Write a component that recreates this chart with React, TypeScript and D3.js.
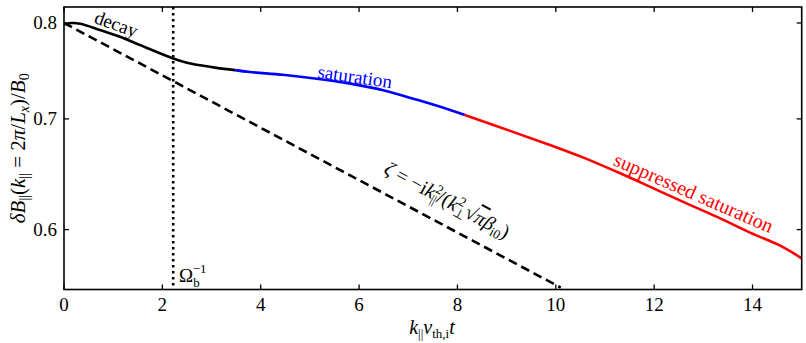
import React from "react";
import * as d3 from "d3";

const xTicks = [0, 2, 4, 6, 8, 10, 12, 14];
const yTicks = [0.6, 0.7, 0.8];

const decayT = [0, 0.15, 0.33, 0.73, 1.14, 1.55, 1.95, 2.22, 2.5, 2.77, 3.1, 3.48];
const decayV = [0.7985, 0.8, 0.7992, 0.7923, 0.7848, 0.7757, 0.767, 0.7615, 0.757, 0.7542, 0.7515, 0.7492];

const satT = [3.48, 3.78, 4.45, 5.14, 5.82, 6.49, 7.18, 7.85, 8.15];
const satV = [0.7492, 0.7472, 0.7443, 0.7403, 0.7352, 0.7285, 0.7188, 0.7088, 0.7039];

const supT = [8.15, 9.07, 9.88, 10.55, 11.24, 11.92, 12.59, 13.28, 13.95, 14.62, 15];
const supV = [0.7039, 0.6884, 0.675, 0.6635, 0.6503, 0.6368, 0.6236, 0.6107, 0.5975, 0.5856, 0.5764];

const zetaT = [0, 10.1];
const zetaV = [0.8, 0.5535];

const omegaT = 2.22;

const W = 806, H = 343;
const L = 64, R = 801.7, T = 7, B = 289.5;
const FAM = "Liberation Serif";

export default function App() {
  const x = d3.scaleLinear().domain([0, 15]).range([L, R]);
  const y = d3.scaleLog().domain([0.552, 0.818]).range([B, T]);
  const line = (ts: number[], vs: number[]) =>
    d3.line<number>().x((_, i) => x(ts[i])).y((_, i) => y(vs[i])).curve(d3.curveCatmullRom.alpha(0.5))(ts) || "";
  const tl = 5;
  return (
    <svg width={W} height={H} fontFamily={FAM} style={{ position: "absolute", left: 0, top: 0, background: "#fff", fontFamily: FAM }}>
      <defs>
        <clipPath id="plot">
          <rect x={L} y={T} width={R - L} height={B - T} />
        </clipPath>
      </defs>
      <g clipPath="url(#plot)">
        <line x1={x(omegaT)} x2={x(omegaT)} y1={T} y2={B} stroke="#000" strokeWidth={2.6} strokeDasharray="2.6,3.4" />
        <path d={line(zetaT, zetaV)} fill="none" stroke="#000" strokeWidth={2.6} strokeDasharray="9,5" />
        <path d={line(decayT, decayV)} fill="none" stroke="#000" strokeWidth={2.6} />
        <path d={line(satT, satV)} fill="none" stroke="#0000ff" strokeWidth={2.6} />
        <path d={line(supT, supV)} fill="none" stroke="#ff0000" strokeWidth={2.6} />
      </g>
      <rect x={L} y={T} width={R - L} height={B - T} fill="none" stroke="#000" strokeWidth={1.6} />
      {xTicks.map((t) => (
        <g key={"x" + t}>
          <line x1={x(t)} x2={x(t)} y1={B} y2={B - tl} stroke="#000" strokeWidth={1.3} />
          <line x1={x(t)} x2={x(t)} y1={T} y2={T + tl} stroke="#000" strokeWidth={1.3} />
          <text x={x(t)} y={B + 21} textAnchor="middle" fontSize={19}>{t}</text>
        </g>
      ))}
      {yTicks.map((t) => (
        <g key={"y" + t}>
          <line x1={L} x2={L + tl} y1={y(t)} y2={y(t)} stroke="#000" strokeWidth={1.3} />
          <line x1={R} x2={R - tl} y1={y(t)} y2={y(t)} stroke="#000" strokeWidth={1.3} />
          <text x={L - 7} y={y(t) + 6} textAnchor="end" fontSize={19}>{t.toFixed(1)}</text>
        </g>
      ))}
      <text x={432} y={334} textAnchor="middle" fontSize={20}>
        <tspan fontStyle="italic">k</tspan>
        <tspan fontSize={13} dy={4}>||</tspan>
        <tspan fontStyle="italic" dy={-4}>v</tspan>
        <tspan fontSize={13} dy={4}>th,i</tspan>
        <tspan fontStyle="italic" dy={-4}>t</tspan>
      </text>
      <text transform={`translate(25,${(T + B) / 2}) rotate(-90)`} textAnchor="middle" fontSize={21}>
        <tspan fontStyle="italic">δB</tspan>
        <tspan fontSize={14} dy={4}>||</tspan>
        <tspan dy={-4}>(</tspan>
        <tspan fontStyle="italic">k</tspan>
        <tspan fontSize={14} dy={4}>||</tspan>
        <tspan dy={-4}> = 2</tspan>
        <tspan fontStyle="italic">π</tspan>
        <tspan>/</tspan>
        <tspan fontStyle="italic">L</tspan>
        <tspan fontSize={14} fontStyle="italic" dy={4}>x</tspan>
        <tspan dy={-4}>)/</tspan>
        <tspan fontStyle="italic">B</tspan>
        <tspan fontSize={14} dy={4}>0</tspan>
      </text>
      <text transform="translate(114,30) rotate(20)" textAnchor="middle" fontSize={19}>decay</text>
      <text transform="translate(354,83) rotate(8)" textAnchor="middle" fontSize={19} fill="#0000ff">saturation</text>
      <text transform="translate(691,199) rotate(23.5)" textAnchor="middle" fontSize={20} fill="#ff0000">suppressed saturation</text>
      <text transform="translate(444,206) rotate(28.5)" textAnchor="middle" fontSize={20}>
        <tspan fontStyle="italic">ζ</tspan>
        <tspan> = −i</tspan>
        <tspan fontStyle="italic">k</tspan>
        <tspan fontSize={13} dy={-8}>2</tspan>
        <tspan fontSize={13} dx={-7} dy={12}>||</tspan>
        <tspan dy={-4}>/(</tspan>
        <tspan fontStyle="italic">k</tspan>
        <tspan fontSize={13} dy={-8}>2</tspan>
        <tspan fontSize={13} dx={-7} dy={12}>⊥</tspan>
        <tspan dy={-4}>√</tspan>
        <tspan fontStyle="italic" textDecoration="overline">π</tspan>
        <tspan fontStyle="italic">β</tspan>
        <tspan fontSize={13} dy={4}>i0</tspan>
        <tspan dy={-4}>)</tspan>
      </text>
      <text x={179} y={282} fontSize={19}>
        <tspan>Ω</tspan>
        <tspan fontSize={13} dy={5}>b</tspan>
        <tspan fontSize={13} dx={-7} dy={-14}>−1</tspan>
      </text>
    </svg>
  );
}
